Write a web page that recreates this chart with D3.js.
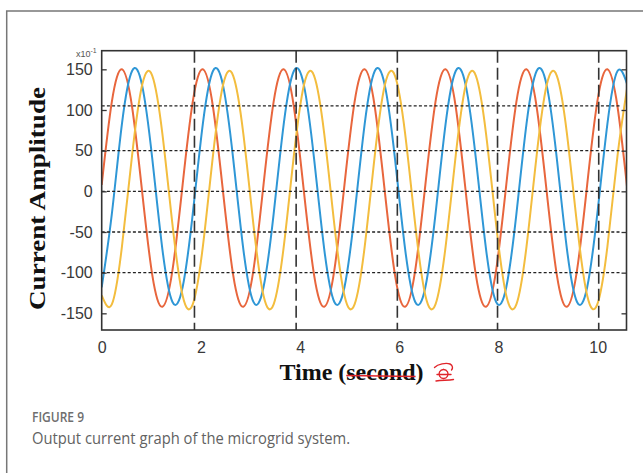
<!DOCTYPE html>
<meta charset="utf-8">
<head>
<title>microgrid output current</title>
<script src="https://cdn.jsdelivr.net/npm/d3@7"></script>
<style>
  body { margin: 0; background: #fff; }
</style>
</head>
<body>

<div id="chart"></div>

<script>

const width = 643;
const height = 473;

// time samples (s) and the three phase currents (x10^-1)
const timeS = [
  0, 0.204, 0.408, 0.612, 0.816, 1.020, 1.223, 1.427,
  1.631, 1.835, 2.039, 2.243, 2.447, 2.651, 2.855, 3.059,
  3.262, 3.466, 3.670, 3.874, 4.078, 4.282, 4.486, 4.690,
  4.894, 5.098, 5.302, 5.505, 5.709, 5.913, 6.117, 6.321,
  6.525, 6.729, 6.933, 7.137, 7.340, 7.544, 7.748, 7.952,
  8.156, 8.360, 8.564, 8.768, 8.972, 9.176, 9.379, 9.583,
  9.787, 9.991, 10.195, 10.399, 10.603
];

const phaseA = [
  8, 110, 150, 104, -1, -103, -142, -97,
  8, 110, 150, 104, -1, -103, -142, -97,
  8, 110, 150, 104, -1, -103, -142, -97,
  8, 110, 150, 104, -1, -103, -142, -97,
  8, 110, 150, 104, -1, -103, -142, -97,
  8, 110, 150, 104, -1, -103, -142, -97,
  8, 110, 150, 104, -1
];

const phaseB = [
  -118, -28, 83, 148, 130, 40, -71, -136,
  -118, -28, 83, 148, 130, 40, -71, -136,
  -118, -28, 83, 148, 130, 40, -71, -136,
  -118, -28, 83, 148, 130, 40, -71, -136,
  -118, -28, 83, 148, 130, 40, -71, -136,
  -118, -28, 83, 148, 130, 40, -71, -136,
  -118, -28, 83, 148, 130
];

const phaseC = [
  -128, -139, -68, 44, 131, 142, 71, -41,
  -128, -139, -68, 44, 131, 142, 71, -41,
  -128, -139, -68, 44, 131, 142, 71, -41,
  -128, -139, -68, 44, 131, 142, 71, -41,
  -128, -139, -68, 44, 131, 142, 71, -41,
  -128, -139, -68, 44, 131, 142, 71, -41,
  -128, -139, -68, 44, 131
];

const xTicks = [0, 2, 4, 6, 8, 10];
const yTicks = [150, 100, 50, 0, -50, -100, -150];
const hLines = [105, 50, 0, -50, -100];        // dotted reference levels
const vLines = [1.87, 3.92, 5.96, 7.98, 10.02]; // dashed markers

const series = [
  { values: phaseA, color: "#e8663d" },
  { values: phaseB, color: "#2f97d6" },
  { values: phaseC, color: "#f3bd3e" }
];

const plot = { left: 101.7, right: 626.5, top: 50.7, bottom: 330 };

const x = d3.scaleLinear().domain([0, 10.58]).range([plot.left, plot.right]);
const y = d3.scaleLinear().domain([-170.5, 172.9]).range([plot.bottom, plot.top]);

const svg = d3.select("#chart")
  .append("svg")
  .attr("width", width)
  .attr("height", height)
  .attr("viewBox", [0, 0, width, height]);

// page frame
svg.append("path")
  .attr("d", `M${width},11H6.7V${height}`)
  .attr("fill", "none")
  .attr("stroke", "#777")
  .attr("stroke-width", 1.5);

svg.append("clipPath")
  .attr("id", "clip")
  .append("rect")
  .attr("x", plot.left)
  .attr("y", plot.top)
  .attr("width", plot.right - plot.left)
  .attr("height", plot.bottom - plot.top);

const line = d3.line()
  .x((d, i) => x(timeS[i]))
  .y(d => y(d))
  .curve(d3.curveNatural);

svg.append("g")
  .attr("clip-path", "url(#clip)")
  .selectAll("path")
  .data(series)
  .join("path")
  .attr("d", d => line(d.values))
  .attr("fill", "none")
  .attr("stroke", d => d.color)
  .attr("stroke-width", 2);

// dotted horizontal lines
svg.append("g")
  .selectAll("line")
  .data(hLines)
  .join("line")
  .attr("x1", plot.left)
  .attr("x2", x(10.44))
  .attr("y1", d => y(d))
  .attr("y2", d => y(d))
  .attr("stroke", "#222")
  .attr("stroke-width", 1.3)
  .attr("stroke-dasharray", "3,2.2");

// dashed vertical lines
svg.append("g")
  .selectAll("line")
  .data(vLines)
  .join("line")
  .attr("x1", d => x(d))
  .attr("x2", d => x(d))
  .attr("y1", plot.top)
  .attr("y2", plot.bottom)
  .attr("stroke", "#333")
  .attr("stroke-width", 1.6)
  .attr("stroke-dasharray", "12,5");

// axes, MATLAB style box with inner ticks
const axisFont = "16px 'Liberation Sans', Arial, sans-serif";

svg.append("g")
  .attr("transform", `translate(${plot.left},0)`)
  .call(d3.axisLeft(y).tickValues(yTicks).tickSize(-5).tickPadding(9).tickFormat(d => String(d)))
  .call(g => g.select(".domain").remove())
  .call(g => g.selectAll("line").attr("stroke", "#333").attr("stroke-width", 1.3))
  .call(g => g.selectAll("text").style("font", axisFont).attr("fill", "#383838"));

svg.append("g")
  .attr("transform", `translate(${plot.right},0)`)
  .call(d3.axisRight(y).tickValues(yTicks).tickSize(-5).tickFormat(""))
  .call(g => g.select(".domain").remove())
  .call(g => g.selectAll("line").attr("stroke", "#333").attr("stroke-width", 1.3));

svg.append("g")
  .attr("transform", `translate(0,${plot.bottom})`)
  .call(d3.axisBottom(x).tickValues(xTicks).tickSize(0).tickPadding(12))
  .call(g => g.select(".domain").remove())
  .call(g => g.selectAll("text").style("font", axisFont).attr("fill", "#383838"));

svg.append("rect")
  .attr("x", plot.left)
  .attr("y", plot.top)
  .attr("width", plot.right - plot.left)
  .attr("height", plot.bottom - plot.top)
  .attr("fill", "none")
  .attr("stroke", "#333")
  .attr("stroke-width", 1.6);

// exponent label
const expo = svg.append("text")
  .attr("x", 76)
  .attr("y", 57)
  .attr("fill", "#555")
  .style("font", "9px 'Liberation Sans', Arial, sans-serif");
expo.append("tspan").text("x10");
expo.append("tspan").attr("dy", -4).style("font-size", "7px").text("-1");

// axis titles
const serif = "bold 24px 'Liberation Serif', 'Times New Roman', serif";

svg.append("text")
  .attr("transform", "translate(45,198.5) rotate(-90)")
  .attr("text-anchor", "middle")
  .attr("textLength", 223)
  .attr("lengthAdjust", "spacingAndGlyphs")
  .style("font", serif)
  .attr("fill", "#111")
  .text("Current Amplitude");

const xTitle = svg.append("text")
  .attr("x", 351.5)
  .attr("y", 380)
  .attr("text-anchor", "middle")
  .style("font", serif)
  .attr("fill", "#111")
  .text("Time (second)");

// red strike through "second"
const node = xTitle.node();
const s0 = node.getStartPositionOfChar(6).x;
const s1 = node.getEndPositionOfChar(11).x;
svg.append("line")
  .attr("x1", s0)
  .attr("x2", s1)
  .attr("y1", 375.5)
  .attr("y2", 376.5)
  .attr("stroke", "#e0252b")
  .attr("stroke-width", 1.6);

// hand drawn red mark
svg.append("path")
  .attr("d", "M434.5,367.5 C438,364 446,362.5 450,364 C453,365.5 453,368.5 451.5,370"
    + " M443.5,369.5 a4.5,4.5 0 1,0 0.1,0 M437,374.5 L451,374.5 M436,381 C442,380 448,380.5 453.5,379.5")
  .attr("fill", "none")
  .attr("stroke", "#e0252b")
  .attr("stroke-width", 1.4)
  .attr("stroke-linecap", "round");

// caption
svg.append("text")
  .attr("x", 32)
  .attr("y", 422)
  .attr("fill", "#6e6e6e")
  .attr("textLength", 52)
  .attr("lengthAdjust", "spacingAndGlyphs")
  .style("font", "600 14.5px 'Open Sans', sans-serif")
  .text("FIGURE 9");

svg.append("text")
  .attr("x", 32)
  .attr("y", 444)
  .attr("fill", "#626262")
  .attr("textLength", 318)
  .attr("lengthAdjust", "spacingAndGlyphs")
  .style("font", "16px 'Open Sans', sans-serif")
  .text("Output current graph of the microgrid system.");

</script>

</body>
